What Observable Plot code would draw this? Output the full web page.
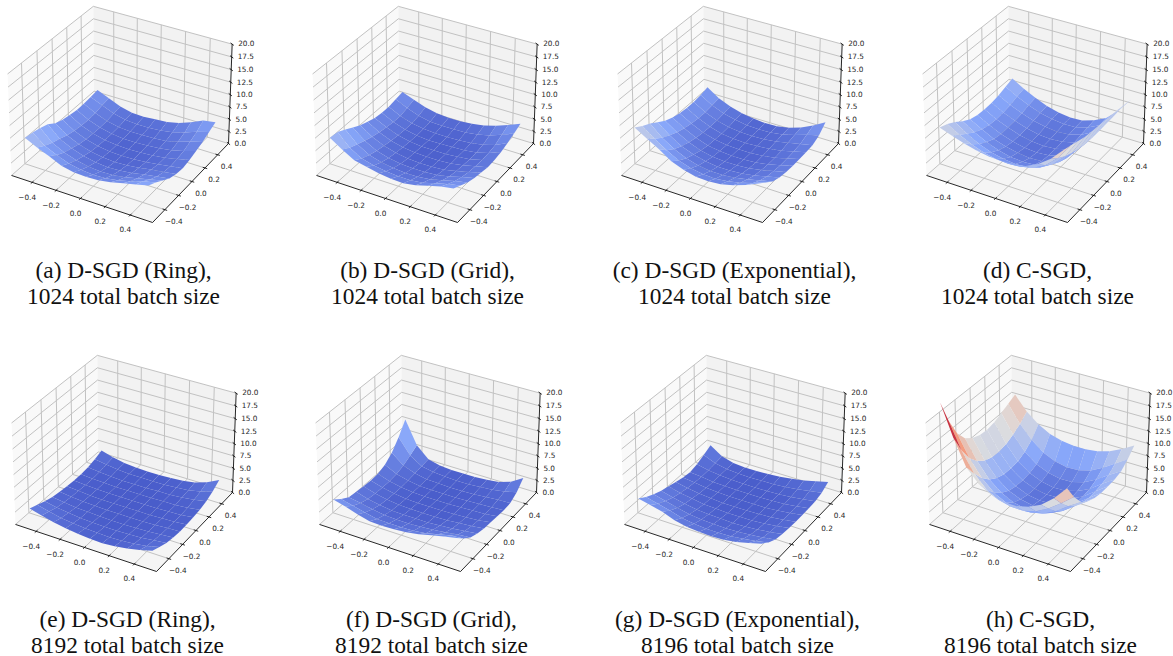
<!DOCTYPE html>
<html><head><meta charset="utf-8">
<script src="https://cdn.jsdelivr.net/npm/d3@7"></script>
<script src="https://cdn.jsdelivr.net/npm/@observablehq/plot@0.6"></script>
<style>html,body{margin:0;padding:0;background:#fff}svg{display:block}</style>
</head><body><div id="chart"></div>
<script>
const xyTicks = [-0.4,-0.2,0,0.2,0.4];
const zTicks = [0,2.5,5,7.5,10,12.5,15,17.5,20];
const captionLine1 = ["(a) D-SGD (Ring),","(b) D-SGD (Grid),","(c) D-SGD (Exponential),","(d) C-SGD,","(e) D-SGD (Ring),","(f) D-SGD (Grid),","(g) D-SGD (Exponential),","(h) C-SGD,"];
const captionLine2 = ["1024 total batch size","1024 total batch size","1024 total batch size","1024 total batch size","8192 total batch size","8192 total batch size","8196 total batch size","8196 total batch size"];
// loss values on an 11x11 grid; each row is one y (-0.5 to 0.5), each column one x (-0.5 to 0.5)
const ring1024 = [
[7.2,6.0,5.0,3.9,3.4,3.3,3.4,3.8,4.4,5.0,5.6],
[6.9,5.0,3.9,3.0,2.5,2.3,2.4,2.8,3.4,4.2,4.8],
[6.5,4.3,3.1,2.3,1.8,1.6,1.7,2.0,2.6,3.2,3.8],
[6.0,3.8,2.6,1.8,1.3,1.1,1.2,1.5,2.0,2.4,2.8],
[4.9,3.2,2.1,1.4,1.0,.8,.9,1.2,1.6,1.9,2.3],
[4.3,2.8,1.8,1.2,.8,.7,.8,1.0,1.3,1.7,2.1],
[4.0,2.6,1.7,1.1,.8,.7,.8,1.0,1.3,1.8,2.4],
[3.8,2.5,1.6,1.1,.8,.8,.9,1.1,1.5,2.1,2.9],
[3.8,2.6,1.7,1.2,1.0,1.0,1.1,1.3,1.9,2.7,3.4],
[4.0,3.0,2.0,1.4,1.2,1.2,1.4,1.8,2.5,3.4,4.1],
[4.2,3.2,2.2,1.6,1.5,1.7,1.9,2.4,3.3,4.4,4.8]];
const grid1024 = [
[7.2,5.6,4.2,3.7,3.2,2.9,2.8,3.2,3.9,4.6,5],
[7,4.6,3.2,2.6,2.2,2,2,2.3,3,3.7,4.2],
[6.2,4,2.6,1.9,1.5,1.3,1.3,1.6,2.2,2.9,3.4],
[5.3,3.4,2.1,1.4,1,.9,.9,1.1,1.6,2.3,2.9],
[4.5,2.9,1.8,1.1,.7,.6,.6,.8,1.3,1.9,2.6],
[3.9,2.5,1.5,.9,.6,.5,.5,.7,1.1,1.7,2.3],
[3.4,2.2,1.3,.8,.5,.5,.5,.7,1,1.6,2.4],
[3.2,2,1.2,.7,.5,.5,.6,.7,1,1.7,2.7],
[3.2,2,1.2,.8,.6,.6,.7,.9,1.3,2,3.2],
[3.5,2.4,1.5,1,.9,.9,1,1.3,1.9,2.8,3.8],
[3.8,2.9,2,1.5,1.3,1.3,1.5,1.9,2.6,3.5,4.5]];
const expo1024 = [
[9.2,7.8,6.4,4.8,3.9,3.3,3.2,3.4,4,4.9,6],
[8.2,6.4,4.9,3.6,2.8,2.4,2.3,2.6,3.1,3.9,4.8],
[7.4,5.3,3.8,2.7,2,1.7,1.7,1.9,2.4,3,3.6],
[6.4,4.5,3,2.1,1.5,1.2,1.2,1.4,1.8,2.4,3],
[5.4,3.8,2.5,1.6,1.1,.9,.9,1.1,1.5,2.1,2.7],
[4.8,3.3,2.1,1.3,.9,.7,.7,.9,1.3,1.9,2.6],
[4.4,3,1.9,1.2,.8,.7,.7,.9,1.3,1.9,2.6],
[4.2,2.8,1.8,1.1,.8,.7,.8,1,1.4,2,2.6],
[4.2,2.8,1.8,1.2,.9,.8,.9,1.2,1.7,2.2,2.7],
[4.4,3,2,1.4,1,.9,1,1.3,2,2.8,3.4],
[4.8,3.2,2.2,1.5,1.1,.9,1,1.4,2.2,3.4,4.8]];
const csgd1024 = [
[9.2,8.4,7.6,7.0,6.6,6.5,6.6,7.0,8.2,10.0,12.5],
[8.6,7.2,6.1,5.2,4.7,4.5,4.7,5.3,6.6,8.8,12.0],
[7.7,6.1,4.8,3.9,3.4,3.1,3.3,4.0,5.4,7.8,11.5],
[6.6,5.1,3.9,3.0,2.4,2.2,2.4,3.1,4.5,7.1,11.0],
[5.7,4.4,3.2,2.4,1.9,1.6,1.8,2.5,3.9,6.6,10.8],
[5.3,4.0,2.9,2.1,1.6,1.4,1.6,2.2,3.6,6.3,10.6],
[5.2,3.9,2.9,2.1,1.6,1.4,1.6,2.2,3.6,6.2,10.4],
[5.3,4.0,3.0,2.2,1.7,1.5,1.7,2.3,3.7,6.2,10.2],
[5.6,4.3,3.3,2.5,2.0,1.7,1.9,2.6,3.9,6.3,10.0],
[6.1,4.8,3.7,2.8,2.3,2.0,2.1,2.8,4.0,6.3,9.7],
[6.6,5.2,4.0,3.0,2.4,2.1,2.2,3.0,4.2,6.4,9.4]];
const ring8192 = [
[2.8,2.2,1.6,1.2,.9,.7,.6,.8,1.2,1.7,2.4],
[2.2,1.6,1.1,.8,.6,.5,.4,.5,.7,1.1,1.7],
[1.6,1.1,.8,.5,.4,.3,.3,.4,.5,.8,1.1],
[1.1,.8,.5,.4,.3,.2,.2,.3,.4,.6,.8],
[.9,.6,.4,.3,.2,.2,.2,.2,.3,.5,.6],
[.7,.5,.3,.2,.2,.2,.2,.2,.3,.4,.6],
[.6,.4,.3,.2,.2,.2,.2,.2,.3,.4,.7],
[.6,.4,.3,.2,.2,.2,.2,.3,.3,.5,.9],
[.8,.5,.3,.2,.2,.2,.3,.3,.5,.8,1.3],
[1.2,.8,.5,.3,.3,.3,.3,.5,.7,1.2,2],
[1.8,1.1,.6,.4,.3,.3,.4,.6,1,1.8,3]];
const grid8192 = [
[4.6,4,3.2,2.6,2.5,2.6,2.8,3.2,3.8,4.4,4.9],
[3.4,2.8,2.2,1.7,1.6,1.6,1.7,2,2.6,3.2,3.4],
[2.4,2,1.5,1.1,1,1,1.1,1.3,1.6,2,2.2],
[2.2,1.5,1,.7,.6,.6,.6,.8,1,1.3,1.6],
[2,1.3,.8,.5,.4,.4,.4,.5,.7,.9,1.2],
[1.9,1.2,.7,.4,.3,.3,.3,.4,.5,.7,1.1],
[2,1.2,.7,.4,.3,.3,.3,.4,.5,.6,.9],
[2.6,1.4,.8,.4,.3,.3,.3,.4,.5,.6,.8],
[3.8,1.9,1,.5,.4,.3,.3,.4,.6,.8,.9],
[5.8,2.7,1.2,.7,.5,.4,.4,.6,.8,1.2,1.8],
[8.3,3.6,1.4,.8,.6,.6,.6,.8,1.1,1.9,3.4]];
const expo8196 = [
[4.8,4.3,3.7,2.8,2.3,2.1,2,2.1,2.5,3.1,3.8],
[3.8,3.2,2.6,1.9,1.5,1.3,1.3,1.4,1.7,2.1,2.6],
[3,2.4,1.8,1.3,1,.9,.8,.9,1.1,1.4,1.8],
[2.4,1.8,1.3,.9,.7,.6,.5,.6,.8,1.1,1.5],
[2,1.4,1,.6,.5,.4,.4,.4,.6,.9,1.3],
[1.6,1.1,.7,.5,.3,.3,.3,.4,.5,.8,1.2],
[1.2,.9,.6,.4,.3,.3,.3,.3,.5,.8,1.2],
[1,.8,.5,.4,.3,.3,.3,.4,.5,.8,1.2],
[1.4,.9,.6,.4,.3,.3,.3,.4,.6,.9,1.3],
[2.1,1.1,.6,.4,.3,.4,.4,.6,.9,1.3,1.7],
[2.9,1.3,.6,.4,.4,.5,.7,1,1.4,2,2.6]];
const csgd8196 = [
[23.5,17.5,12.5,10,8.7,8,8,8.6,9.8,11.8,14.5],
[18.8,13.8,10.0,7.6,6.3,5.7,5.7,6.4,7.7,9.5,11.5],
[15.2,11.0,7.8,5.6,4.4,3.9,4.0,4.6,5.8,7.6,9.2],
[13.0,9.2,6.2,4.3,3.1,2.6,2.7,3.3,4.5,6.3,8.0],
[11.8,8.0,5.2,3.4,2.4,1.9,2.0,2.6,3.7,5.6,7.3],
[11.2,7.4,4.7,3.0,2.0,1.6,1.7,2.3,3.4,5.2,7.0],
[11.0,7.3,4.6,2.9,1.9,1.5,1.6,2.2,3.4,5.2,7.0],
[11.3,7.6,4.8,3.1,2.1,1.6,1.7,2.4,3.6,5.4,7.0],
[12.0,8.3,5.5,3.6,2.6,2.1,2.2,2.9,4.2,5.9,7.4],
[12.7,9.3,6.7,4.8,3.7,3.2,3.3,4.0,5.3,6.9,8.5],
[13.4,10.6,8.7,7.4,6.7,6.4,6.4,6.7,7.4,8.6,10]];
const surfaces = [ring1024,grid1024,expo1024,csgd1024,ring8192,grid8192,expo8196,csgd8196];

// layout of the small multiples
const originX = [0,305,610,915,4,308,613,918];
const originY = [0,0,0,0,349,349,349,349];
const captionX = [123,427,734,1037,127,431,737,1040];
const BOX = 0.575, ZTOP = 20, ZK = 0.686, DIST = 10;
const U=[0.866,0.5,0], V=[-0.25,0.433,0.866], W=[0.433,-0.75,0.5];
const dot=(a,b)=>a[0]*b[0]+a[1]*b[1]+a[2]*b[2];
function view(x,y,z){
  const d=[x/(2*BOX), y/(2*BOX), (z/ZTOP-0.5)*ZK];
  const depth=DIST-dot(W,d);
  return {xp:dot(U,d)/depth, yp:dot(V,d)/depth, near:dot(W,d)};
}
// screen frame of one panel: floor corners at left (11,175), front (153,222), right (228,143)
const cL=view(-BOX,-BOX,0), cF=view(BOX,-BOX,0), cR=view(BOX,BOX,0);
const sx=(228-11)/(cR.xp-cL.xp), sy=(222-143)/(cR.yp-cF.yp);
function project(p,x,y,z,extra={}){
  const v=view(x,y,z);
  return {px:originX[p]+11+(v.xp-cL.xp)*sx, py:originY[p]+143-(v.yp-cR.yp)*sy, ...extra};
}
const idx=d3.range(8);
const walls={floor:[],left:[],back:[]};
const grid=[], axes=[], ticks=[], xLab=[], yLab=[], zLab=[];
let n=0;
for(const p of idx){
  const B=BOX;
  [[-B,-B,0],[B,-B,0],[B,B,0],[-B,B,0]].forEach(c=>walls.floor.push(project(p,...c,{k:p})));
  [[-B,-B,0],[-B,B,0],[-B,B,ZTOP],[-B,-B,ZTOP]].forEach(c=>walls.left.push(project(p,...c,{k:p})));
  [[-B,B,0],[B,B,0],[B,B,ZTOP],[-B,B,ZTOP]].forEach(c=>walls.back.push(project(p,...c,{k:p})));
  for(const t of xyTicks){
    [[t,-B,0],[t,B,0],[t,B,ZTOP]].forEach(c=>grid.push(project(p,...c,{k:n}))); n++;
    [[B,t,0],[-B,t,0],[-B,t,ZTOP]].forEach(c=>grid.push(project(p,...c,{k:n}))); n++;
    [[t,-B-0.018,0],[t,-B+0.018,0]].forEach(c=>ticks.push(project(p,...c,{k:n}))); n++;
    [[B+0.018,t,0],[B-0.018,t,0]].forEach(c=>ticks.push(project(p,...c,{k:n}))); n++;
    xLab.push(project(p,t,-B,0,{t:d3.format(".1f")(t).replace("-","\u2212")}));
    yLab.push(project(p,B,t,0,{t:d3.format(".1f")(t).replace("-","\u2212")}));
  }
  for(const t of zTicks){
    [[-B,-B,t],[-B,B,t],[B,B,t]].forEach(c=>grid.push(project(p,...c,{k:n}))); n++;
    [[B-0.018,B+0.01,t],[B+0.018,B-0.01,t]].forEach(c=>ticks.push(project(p,...c,{k:n}))); n++;
    zLab.push(project(p,B,B,t,{t:d3.format(".1f")(t)}));
  }
  [[-B,-B,0],[B,-B,0],[B,B,0],[B,B,ZTOP]].forEach(c=>axes.push(project(p,...c,{k:p})));
}
// quads, far ones first
const quads=[];
surfaces.forEach((rows,p)=>{
  const m=rows.length-1, list=[];
  const X=i=>-0.5+i/m;
  for(let j=0;j<m;j++)for(let i=0;i<m;i++){
    const cs=[[i,j],[i+1,j],[i+1,j+1],[i,j+1]];
    const zs=cs.map(([a,b])=>rows[b][a]);
    const mean=d3.mean(zs);
    const near=d3.mean(cs,([a,b],q)=>view(X(a),X(b),zs[q]).near);
    list.push({p,i,j,cs,zs,mean,near});
  }
  list.sort((a,b)=>a.near-b.near);
  list.forEach((q,o)=>q.cs.forEach(([a,b],c)=>quads.push(project(p,X(a),X(b),q.zs[c],{k:p+"-"+o,v:q.mean}))));
});
const caps=idx.flatMap(p=>[
  {x:captionX[p],y:originY[p]+277,t:captionLine1[p]},
  {x:captionX[p],y:originY[p]+303,t:captionLine2[p]}]);
const closed={x:"px",y:"py",z:"k",stroke:"none",curve:"linear-closed"};
const thin={x:"px",y:"py",z:"k",strokeLinecap:"butt"};
const tickFont={text:"t",fontFamily:"DejaVu Sans",fontSize:7.3,fill:"#262626"};
const chart=Plot.plot({
  width:1173,height:656,margin:0,
  style:{background:"#fff"},
  x:{axis:null,domain:[0,1173],range:[0,1173]},
  y:{axis:null,domain:[0,656],range:[0,656]},
  color:{type:"linear",domain:[0,5,10,15,20],range:["#4659c8","#88a7fa","#dedede","#f4987a","#b40426"],clamp:true},
  marks:[
    Plot.line(walls.floor,{...closed,fill:"#f5f5f5"}),
    Plot.line(walls.left,{...closed,fill:"#f9f9f9"}),
    Plot.line(walls.back,{...closed,fill:"#f2f2f2"}),
    Plot.line(grid,{...thin,stroke:"#c2c2c2",strokeWidth:1}),
    Plot.line(axes,{...thin,stroke:"#111",strokeWidth:0.9}),
    Plot.line(ticks,{...thin,stroke:"#111",strokeWidth:0.9}),
    Plot.text(xLab,{...tickFont,x:"px",y:"py",dx:-5,dy:15}),
    Plot.text(yLab,{...tickFont,x:"px",y:"py",dx:9,dy:12}),
    Plot.text(zLab,{...tickFont,x:"px",y:"py",dx:6,textAnchor:"start"}),
    Plot.line(quads,{...closed,fill:"v"}),
    Plot.text(caps,{x:"x",y:"y",text:"t",fontFamily:"Liberation Serif",fontSize:23.4,fill:"#111",lineAnchor:"bottom"})
  ]
});
document.getElementById("chart").appendChild(chart);
</script></body></html>
